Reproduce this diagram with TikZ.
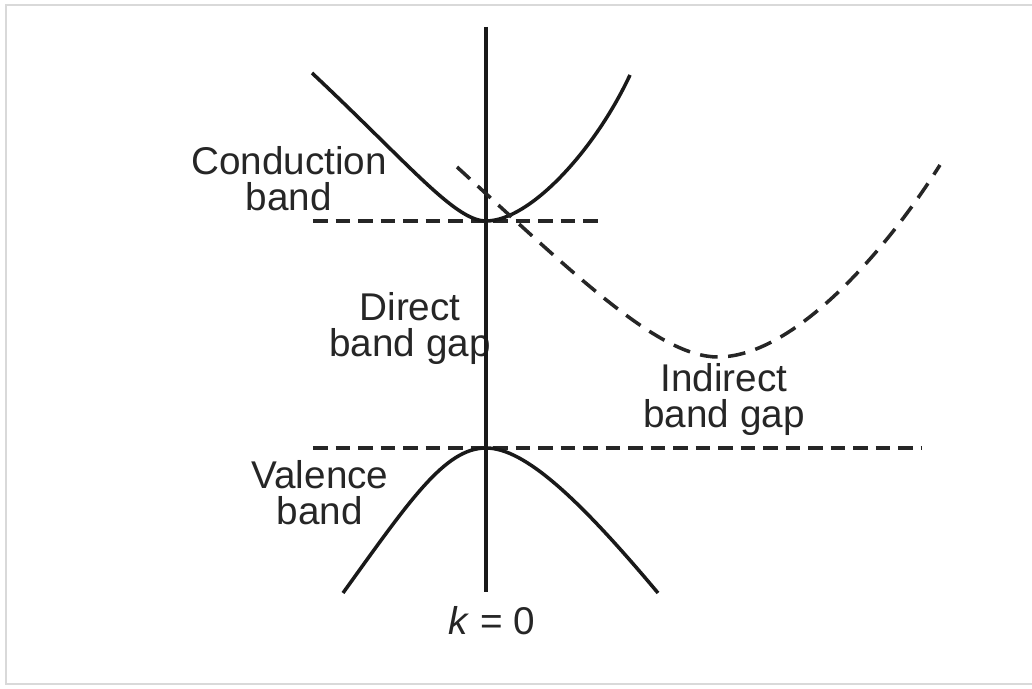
\documentclass[tikz,border=0pt]{standalone}
\usepackage{fontspec}
\setmainfont{Liberation Sans}
\usepackage{tikz}
\usetikzlibrary{calc}
\tikzstyle{label} = [align=center, anchor=base, text=black!85, font=\fontsize{11}{10.3}\selectfont]
\tikzstyle{band} = [line width=1pt, black!90]
\tikzstyle{level} = [line width=1pt, black!85, dash pattern=on 4.2pt off 2.2pt]
\tikzstyle{indirect} = [line width=1pt, black!85, dash pattern=on 5pt off 3pt]

\begin{document}
\begin{tikzpicture}[x=0.01cm, y=-0.01cm]
  \useasboundingbox (0,0) rectangle (1032,689);
  \draw[gray!30, line width=0.7pt] (1032,5) -- (6,5) -- (6,684) -- (1032,684);

  \node[label] (cond) at (289,211) {Conduction\\band};
  \node[label] (direct) at (410,357) {Direct\\band gap};
  \node[label] (valence) at (320,525) {Valence\\band};
  \node[label] (indir) at (724,428) {Indirect\\band gap};
  \node[label] (kzero) at (492,635) {\textit{k} = 0};

  \coordinate (cmin) at (486,221);
  \coordinate (vmax) at (486,448);
  \coordinate (imin) at (718,357);

  \draw[band] (486,27) -- (486,592);
  \draw[level] (313,221) -- (600,221);
  \draw[level] (313,448) -- (922,448);
  \draw[band] (312,73) .. controls (410,165) and (455,221) .. (cmin)
              .. controls (530,221) and (595,150) .. (630,75);
  \draw[band] (343,593) .. controls (410,500) and (445,448) .. (vmax)
              .. controls (525,448) and (580,500) .. (658,593);
  \draw[indirect] (457,167) .. controls (580,280) and (660,357) .. (imin)
                  .. controls (790,357) and (880,260) .. (940,165);
\end{tikzpicture}
\end{document}
